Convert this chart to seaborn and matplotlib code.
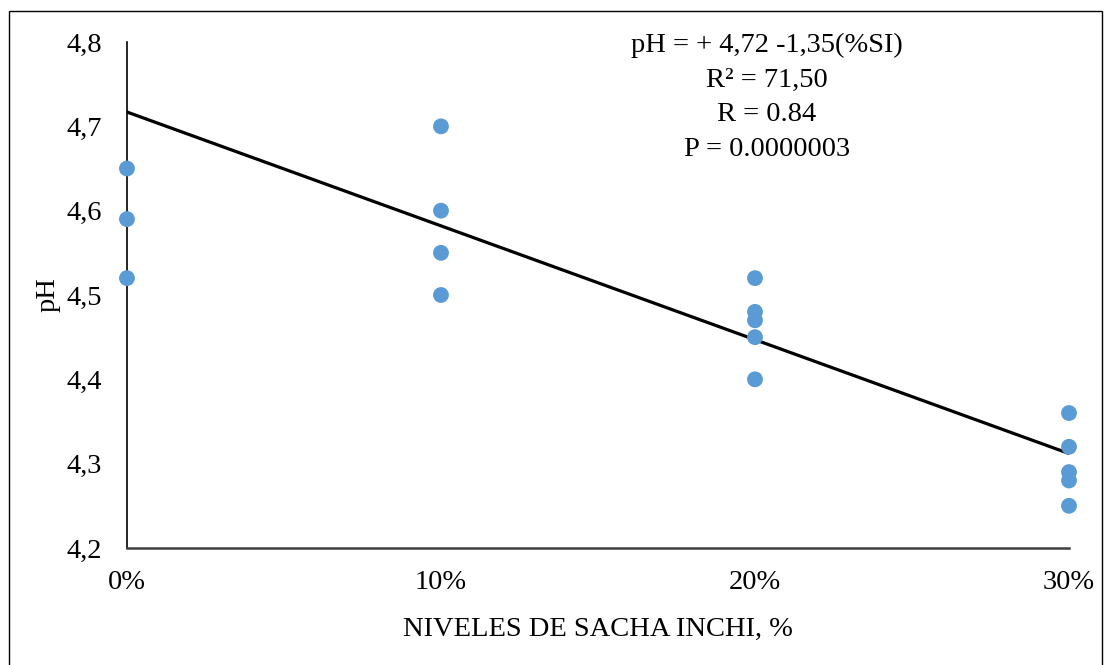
import matplotlib
matplotlib.use("Agg")
import matplotlib.pyplot as plt
import seaborn as sns
import numpy as np
import pandas as pd
from matplotlib.patches import Rectangle

# ---- data ----
levels = [0.0] * 3 + [0.1] * 4 + [0.2] * 5 + [0.3] * 5
ph_values = [4.65, 4.59, 4.52,
             4.70, 4.60, 4.55, 4.50,
             4.52, 4.48, 4.47, 4.45, 4.40,
             4.36, 4.32, 4.29, 4.28, 4.25]
intercept = 4.717
slope = -1.35
x_ticks = [0.0, 0.1, 0.2, 0.3]
x_tick_labels = ["0%", "10%", "20%", "30%"]
y_ticks = [4.2, 4.3, 4.4, 4.5, 4.6, 4.7, 4.8]
y_tick_labels = ["4,2", "4,3", "4,4", "4,5", "4,6", "4,7", "4,8"]
annotation_lines = ["pH = + 4,72 -1,35(%SI)", "R² = 71,50", "R = 0.84", "P = 0.0000003"]

df = pd.DataFrame({"nivel": levels, "pH": ph_values})
fit_x = np.array([x_ticks[0], x_ticks[-1]])
fit_df = pd.DataFrame({"nivel": fit_x, "pH": intercept + slope * fit_x})

sns.set_theme(style="white")
plt.rcParams["font.family"] = ["Liberation Serif", "DejaVu Serif"]
plt.rcParams["text.color"] = "black"
plt.rcParams["axes.labelcolor"] = "black"
plt.rcParams["xtick.color"] = "black"
plt.rcParams["ytick.color"] = "black"

FS = 20.5

fig = plt.figure(figsize=(11.04, 6.65), dpi=100)
ax = fig.add_axes([0.115, 0.176, 0.8533, 0.7608])

sns.lineplot(data=fit_df, x="nivel", y="pH", ax=ax, color="black", linewidth=2.3, zorder=2)
sns.scatterplot(data=df, x="nivel", y="pH", ax=ax, color="#5B9BD5", s=130,
                edgecolor="none", zorder=3, clip_on=False)

ax.set_xlim(0, 0.3)
ax.set_ylim(4.2, 4.8)
ax.set_xticks(x_ticks)
ax.set_xticklabels(x_tick_labels, fontsize=FS)
ax.set_yticks(y_ticks)
ax.set_yticklabels(y_tick_labels, fontsize=FS)
ax.tick_params(axis="both", length=0)
ax.tick_params(axis="y", pad=18)
ax.tick_params(axis="x", pad=16)
ax.set_xlabel("NIVELES DE SACHA INCHI, %", fontsize=FS, labelpad=16)
ax.set_ylabel("pH", fontsize=FS, labelpad=4)

for s in ["top", "right"]:
    ax.spines[s].set_visible(False)
ax.spines["left"].set_color("black")
ax.spines["left"].set_linewidth(1.2)
ax.spines["bottom"].set_color("#404040")
ax.spines["bottom"].set_linewidth(1.8)
ax.grid(False)

fig.text(767 / 1104, 1 - 33 / 665, "\n".join(annotation_lines),
         ha="center", va="top", fontsize=FS, linespacing=1.5)

fig.patches.append(Rectangle((9 / 1104, -0.02), (1102 - 9) / 1104, 1.02 - 11 / 665,
                             transform=fig.transFigure, fill=False,
                             edgecolor="black", linewidth=1.0))

fig.savefig("out.png", dpi=100)
